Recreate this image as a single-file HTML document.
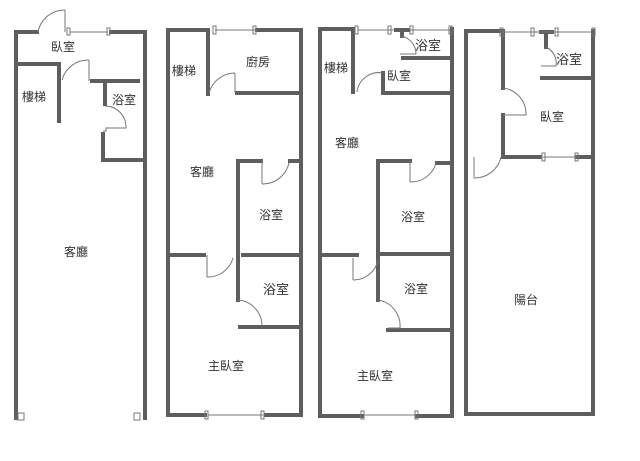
<!DOCTYPE html>
<html><head><meta charset="utf-8"><style>
html,body{margin:0;padding:0;background:#fff;}
svg{display:block}
text{font-family:"Liberation Sans","Noto Sans CJK TC",sans-serif;font-size:12px;fill:#333}
</style></head><body>
<svg width="640" height="461" viewBox="0 0 640 461" xmlns="http://www.w3.org/2000/svg">
<g stroke="#5e5e5e" stroke-width="4" fill="none" stroke-linecap="square">
<path d="M16 418V32H37"/><path d="M111 32H145V418"/>
<path d="M16 64H59V121"/>
<path d="M92 81H138"/><path d="M105 81V104"/>
<path d="M103 134V160H143"/>
<path d="M168 415V30H207"/><path d="M257 30H301V415H266"/><path d="M205 415H168"/>
<path d="M208 30V94"/><path d="M237 93H301"/>
<path d="M238 300V161H261"/><path d="M290 161H301"/>
<path d="M168 255H204"/><path d="M243 255H301"/>
<path d="M240 327H301"/>
<path d="M320 416V29H352"/><path d="M452 29V416H417"/><path d="M362 416H320"/>
<path d="M353 29V92"/>
<path d="M396 30H408M402 30V36"/>
<path d="M403 58H452"/>
<path d="M383 73V93H452"/>
<path d="M378 300V161H410"/><path d="M437 163H452"/>
<path d="M320 255H357"/><path d="M378 254H452"/>
<path d="M388 330H452"/>
<path d="M466 414V31H499"/><path d="M593 31V414H466"/>
<path d="M503 31V88"/><path d="M503 115V157H540"/><path d="M577 157H593"/>
<path d="M541 32H552M546 32V47"/>
<path d="M542 78H593"/>
</g>
<g stroke="#777" stroke-width="1" fill="none">
<path d="M70 32H108"/><rect x="67" y="28" width="3" height="7"/><rect x="107" y="28" width="3" height="7"/>
<path d="M65 10V32M38 32A27 27 0 0 1 65 10"/>
<path d="M89 60V81M62 80A27 27 0 0 1 89 60"/>
<path d="M105 106A21 21 0 0 1 126 128H106V131H103"/>
<rect x="18" y="413" width="6" height="7"/><rect x="134" y="413" width="6" height="7"/>
<path d="M215 30H256"/><rect x="213" y="26" width="3" height="8"/><rect x="253" y="26" width="3" height="8"/>
<path d="M235 73V93M209 93A27 27 0 0 1 235 73"/>
<path d="M262 161V184M262 184A27 27 0 0 0 289 163"/>
<path d="M207 255V277M207 277A26 26 0 0 0 233 258"/>
<path d="M238 300A26 26 0 0 1 262 326"/>
<path d="M208 415H263"/><rect x="205" y="411" width="3" height="8"/><rect x="261" y="411" width="3" height="8"/>
<path d="M358 30H395M410 30H450"/><rect x="355" y="26" width="3" height="8"/><rect x="388" y="26" width="3" height="8"/><rect x="410" y="26" width="3" height="8"/><rect x="449" y="26" width="3" height="8"/>
<path d="M400 36A18 18 0 0 1 416 54H400"/>
<path d="M383 73A22 22 0 0 0 357 92"/>
<path d="M410 161V182M410 182A26 26 0 0 0 436 163"/>
<path d="M353 258V280M353 280A25 25 0 0 0 378 260"/>
<path d="M378 300A26 26 0 0 1 400 328H388"/>
<path d="M364 415H416"/><rect x="361" y="411" width="3" height="8"/><rect x="415" y="411" width="3" height="8"/>
<path d="M502 32H591"/><rect x="500" y="28" width="3" height="8"/><rect x="531" y="28" width="3" height="8"/><rect x="555" y="28" width="3" height="8"/><rect x="592" y="28" width="3" height="8"/>
<path d="M546 47A18 18 0 0 1 556 66H541"/>
<path d="M503 88A26 26 0 0 1 526 115H503"/>
<path d="M474 157V178M474 178A27 27 0 0 0 501 157"/>
<path d="M543 157H577"/><rect x="542" y="153" width="3" height="8"/><rect x="575" y="153" width="3" height="8"/>
</g>
<text x="51" y="51">臥室</text>
<text x="22" y="101">樓梯</text>
<text x="112" y="104">浴室</text>
<text x="64" y="256">客廳</text>
<text x="172" y="75">樓梯</text>
<text x="246" y="66">廚房</text>
<text x="190" y="176">客廳</text>
<text x="259" y="219">浴室</text>
<text x="263" y="294" style="font-size:13px">浴室</text>
<text x="208" y="370">主臥室</text>
<text x="324" y="72">樓梯</text>
<text x="387" y="80">臥室</text>
<text x="415" y="50" style="font-size:13px">浴室</text>
<text x="335" y="147">客廳</text>
<text x="401" y="221">浴室</text>
<text x="404" y="293">浴室</text>
<text x="357" y="380">主臥室</text>
<text x="556" y="64" style="font-size:13px">浴室</text>
<text x="540" y="121">臥室</text>
<text x="514" y="304">陽台</text>
</svg>
</body></html>
